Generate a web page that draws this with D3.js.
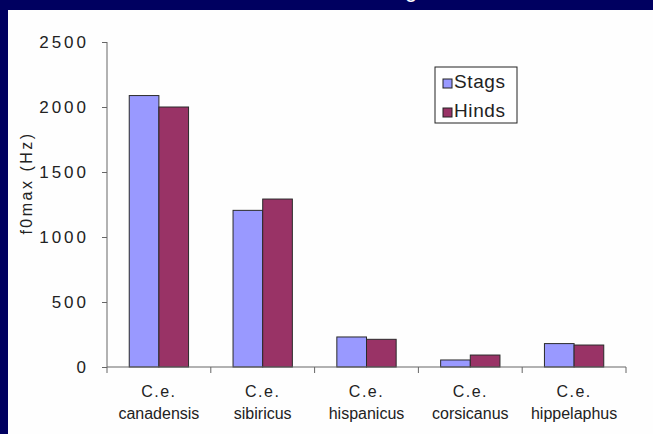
<!DOCTYPE html>
<html>
<head>
<meta charset="utf-8">
<script src="https://cdn.jsdelivr.net/npm/d3@7"></script>
<style>
  body { margin: 0; background: #000060; }
  svg { display: block; }
  text { font-family: "Liberation Sans", Arial, sans-serif; fill: #222; }
</style>
</head>
<body>
<svg id="chart" width="653" height="434"></svg>
<script>
// data
var categories = ['canadensis', 'sibiricus', 'hispanicus', 'corsicanus', 'hippelaphus'];
var series = ['Stags', 'Hinds'];
var stags = [2088, 1205, 231, 54, 180];
var hinds = [2000, 1292, 213, 92, 169];
var yTicks = [0, 500, 1000, 1500, 2000, 2500];
var colors = ['#9999ff', '#993366'];

document.addEventListener('DOMContentLoaded', function() {
  var svg = d3.select('#chart');

  // navy frame + white plot panel
  svg.append('rect').attr('width', 653).attr('height', 434).attr('fill', '#000060');
  svg.append('rect').attr('x', 8).attr('y', 10).attr('width', 645).attr('height', 424).attr('fill', '#fefefe');

  // title is cut off at the top, only the tail of a "g" shows
  svg.append('text')
    .attr('x', 411).attr('y', -3)
    .attr('text-anchor', 'middle')
    .style('font-size', '22px')
    .style('fill', '#fff')
    .text('g');

  var x = d3.scaleBand().domain(categories).range([107, 626]).padding(0);
  var xSub = d3.scaleBand().domain(series).range([0, x.bandwidth()]).paddingInner(0).paddingOuter(0.75);
  var y = d3.scaleLinear().domain([0, 2500]).range([367, 42]);

  var rows = categories.map(function(c, i) {
    return { cat: c, values: [stags[i], hinds[i]] };
  });

  // bars
  var groups = svg.selectAll('g.grp')
    .data(rows)
    .enter().append('g')
    .attr('class', 'grp')
    .attr('transform', function(d) { return 'translate(' + x(d.cat) + ',0)'; });

  groups.selectAll('rect')
    .data(function(d) { return d.values.map(function(v, j) { return { s: series[j], v: v, j: j }; }); })
    .enter().append('rect')
    .attr('x', function(d) { return xSub(d.s); })
    .attr('y', function(d) { return y(d.v); })
    .attr('width', xSub.bandwidth())
    .attr('height', function(d) { return y(0) - y(d.v); })
    .attr('fill', function(d) { return colors[d.j]; })
    .attr('stroke', '#2a2a2a')
    .attr('stroke-width', 1);

  // y axis
  var yAxis = svg.append('g')
    .attr('transform', 'translate(107,0)')
    .call(d3.axisLeft(y).tickValues(yTicks).tickSize(5).tickPadding(13).tickFormat(d3.format('d')));
  yAxis.selectAll('path, line').attr('stroke', '#666');
  yAxis.selectAll('text')
    .style('font-size', '17px')
    .style('letter-spacing', '3px')
    .style('font-family', '"Liberation Sans", Arial, sans-serif')
    .attr('fill', '#222');
  yAxis.select('.domain').attr('d', 'M0,' + y(2500) + 'V' + y(0));

  // x axis: line with ticks at the band edges
  var edges = categories.map(function(c) { return x(c); }).concat([x.range()[1]]);
  svg.append('line')
    .attr('x1', 107).attr('x2', 626)
    .attr('y1', y(0)).attr('y2', y(0))
    .attr('stroke', '#666');
  svg.selectAll('line.xtick')
    .data(edges)
    .enter().append('line')
    .attr('class', 'xtick')
    .attr('x1', function(d) { return d; }).attr('x2', function(d) { return d; })
    .attr('y1', y(0)).attr('y2', y(0) + 6)
    .attr('stroke', '#666');

  var lab = svg.selectAll('text.xlab')
    .data(categories)
    .enter().append('text')
    .attr('class', 'xlab')
    .attr('text-anchor', 'middle')
    .style('font-size', '16px');
  lab.append('tspan')
    .attr('x', function(d) { return x(d) + x.bandwidth() / 2; })
    .attr('y', 397)
    .style('letter-spacing', '1.5px')
    .text('C.e.');
  lab.append('tspan')
    .attr('x', function(d) { return x(d) + x.bandwidth() / 2; })
    .attr('y', 419)
    .text(function(d) { return d; });

  // y title
  svg.append('text')
    .attr('transform', 'translate(32,183) rotate(-90)')
    .attr('text-anchor', 'middle')
    .style('font-size', '16px')
    .style('letter-spacing', '2.5px')
    .text('f0max (Hz)');

  // legend
  var leg = svg.append('g');
  leg.append('rect')
    .attr('x', 435).attr('y', 67).attr('width', 82).attr('height', 56)
    .attr('fill', '#fff').attr('stroke', '#222');
  series.forEach(function(s, i) {
    leg.append('rect')
      .attr('x', 443).attr('y', 79 + i * 29)
      .attr('width', 9).attr('height', 9)
      .attr('fill', colors[i]).attr('stroke', '#222');
    leg.append('text')
      .attr('x', 454).attr('y', 88 + i * 29)
      .style('font-size', '19px')
      .style('letter-spacing', '0.6px')
      .text(s);
  });
});
</script>
</body>
</html>
